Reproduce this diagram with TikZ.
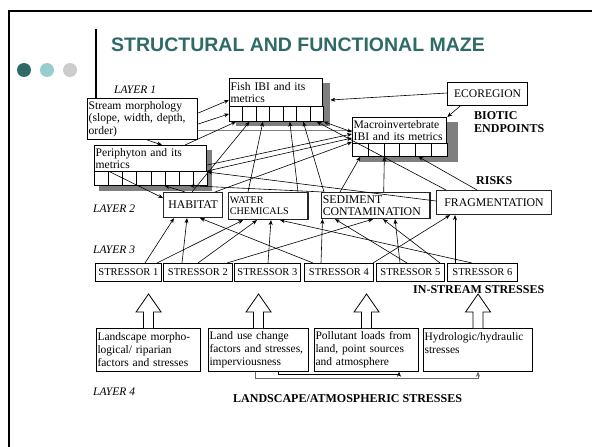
\documentclass[tikz,border=0pt]{standalone}
\usepackage{fontspec}
\setmainfont{Liberation Serif}
\newfontfamily\titlefont{Liberation Sans}
\usetikzlibrary{arrows.meta}
\definecolor{slideteal}{HTML}{2F6B66}
\definecolor{dotlight}{HTML}{99CCCC}
\definecolor{dotgrey}{HTML}{CCCCCC}
\definecolor{shadowgrey}{HTML}{7F7F7F}
\tikzstyle{text-box}=[draw,fill=white,anchor=north west,align=left,inner sep=1.2pt,line width=0.9pt,font=\fontsize{11.6}{12.4}\selectfont]
\tikzstyle{cell-node}=[draw,fill=white,anchor=north west,inner sep=0pt,line width=0.7pt]
\tikzstyle{risk-node}=[draw=black!85,fill=white,anchor=north west,inner sep=1.2pt,line width=1.1pt,font=\fontsize{11.8}{12.4}\selectfont]
\tikzstyle{stress-node}=[draw,fill=white,anchor=north west,inner sep=0pt,line width=0.7pt,minimum height=18pt,font=\fontsize{10.5}{12}\selectfont]
\tikzstyle{land-node}=[draw,fill=white,anchor=north west,align=left,inner sep=1.2pt,line width=0.7pt,minimum height=43pt,font=\fontsize{11.5}{13}\selectfont]
\tikzstyle{layer-label}=[anchor=base west,inner sep=0pt,font=\fontsize{11.5}{13}\selectfont\itshape]
\tikzstyle{group-label}=[anchor=base west,inner sep=0pt,align=left,font=\fontsize{12}{13}\selectfont\bfseries]
\tikzstyle{hollow-arrow}=[draw,fill=white,line width=0.8pt]
\tikzstyle{black-line}=[draw=black,line width=0.6pt]

\begin{document}
\begin{tikzpicture}[x=1pt,y=-1pt]
	\useasboundingbox (0,0) rectangle (592,447);
	% slide frame
	\begin{scope}
	\draw[line width=2.5pt] (592,11) -- (9,11) -- (9,447);
	\draw[line width=1.5pt] (96,29) -- (96,102);
	\fill[slideteal] (24,70) circle (7);
	\fill[dotlight] (47,70) circle (7);
	\fill[dotgrey] (70,70) circle (7);
	\node[anchor=base west,inner sep=0pt,text=slideteal,font=\titlefont\fontsize{19.5}{22}\selectfont\bfseries] (title) at (111,51) {STRUCTURAL AND FUNCTIONAL MAZE};
	\end{scope}

	% shadows
	\fill[shadowgrey] (236,83) rectangle (330,126);
	\fill[shadowgrey] (99,150) rectangle (212,191);
	\fill[shadowgrey] (360,122) rectangle (458,162);

	% biotic endpoints
	\begin{scope}
	\node[text-box,text width=108pt,minimum height=41pt] (stream) at (87,98) {Stream morphology\\(slope, width, depth,\\order)};
	\node[text-box,text width=91pt,minimum height=28pt] (fish) at (229,78) {Fish IBI and its\\metrics};
	\foreach \i in {1,...,7}
		\node[cell-node,minimum width=13.43pt,minimum height=15pt] (fc\i) at ({229+(\i-1)*13.43},106) {};
	\node[text-box,text width=110pt,minimum height=26pt] (periph) at (94,145) {Periphyton and its\\metrics};
	\foreach \i in {1,...,8}
		\node[cell-node,minimum width=14.13pt,minimum height=14pt] (pc\i) at ({94+(\i-1)*14.13},171) {};
	\node[text-box,text width=92pt,minimum height=26pt] (macro) at (352,117) {Macroinvertebrate\\IBI and its metrics};
	\foreach \i in {1,...,6}
		\node[cell-node,minimum width=15.83pt,minimum height=13pt] (mc\i) at ({352+(\i-1)*15.83},143) {};
	\node[text-box,line width=1.2pt,minimum width=80pt,minimum height=23pt,align=center] (eco) at (447,82) {ECOREGION};
	\end{scope}

	% risks
	\begin{scope}
	\node[risk-node,minimum width=59pt,minimum height=25pt] (hab) at (163,192) {HABITAT};
	\node[risk-node,text width=77pt,minimum height=27pt,align=left,font=\fontsize{10.2}{11}\selectfont] (water) at (228,192) {WATER\\CHEMICALS};
	\node[risk-node,text width=106pt,minimum height=26pt,align=left] (sed) at (321,192) {SEDIMENT\\CONTAMINATION};
	\node[risk-node,minimum width=115pt,minimum height=24pt] (frag) at (436,190) {FRAGMENTATION};
	\end{scope}

	% stressors
	\begin{scope}
	\node[stress-node,minimum width=66pt] (s1) at (95,263) {STRESSOR 1};
	\node[stress-node,minimum width=69pt] (s2) at (163,263) {STRESSOR 2};
	\node[stress-node,minimum width=66pt] (s3) at (234,263) {STRESSOR 3};
	\node[stress-node,minimum width=69pt] (s4) at (304,263) {STRESSOR 4};
	\node[stress-node,minimum width=68pt] (s5) at (376,263) {STRESSOR 5};
	\node[stress-node,minimum width=70pt] (s6) at (447,263) {STRESSOR 6};
	\end{scope}

	% landscape
	\begin{scope}
	\node[land-node,text width=102pt] (lb1) at (96,328) {Landscape morpho-\\logical/ riparian\\factors and stresses};
	\node[land-node,text width=98pt] (lb2) at (208,328) {Land use change\\factors and stresses,\\imperviousness};
	\node[land-node,text width=102pt] (lb3) at (314,328) {Pollutant loads from\\land, point sources\\and atmosphere};
	\node[land-node,text width=107pt] (lb4) at (423,328) {Hydrologic/hydraulic\\stresses\\\mbox{}};
	\foreach \b in {lb1,lb2,lb3,lb4}
		\draw[hollow-arrow] ([xshift=-5pt]\b.north) -- ++(0,-16) -- ++(-7.5,0) -- ++(12.5,-18) -- ++(12.5,18) -- ++(-7.5,0) -- ++(0,16);
	\end{scope}

	% labels
	\begin{scope}
	\node[layer-label] (l1) at (114,93) {LAYER 1};
	\node[layer-label] (l2) at (93,212) {LAYER 2};
	\node[layer-label] (l3) at (93,253) {LAYER 3};
	\node[layer-label] (l4) at (93,395) {LAYER 4};
	\node[group-label] (biotic) at (474,132) {BIOTIC\\ENDPOINTS};
	\node[group-label] (risks) at (476,184) {RISKS};
	\node[group-label] (instream) at (413,293) {IN-STREAM STRESSES};
	\node[group-label] (landatm) at (233,402) {LANDSCAPE/ATMOSPHERIC STRESSES};
	\end{scope}

	\begin{scope}[>={Stealth[length=5pt,width=4pt]}, every edge/.style=black-line]
	% into the biotic endpoints
	\draw[draw=shadowgrey,line width=1pt] ([yshift=-32pt]stream.north east) -- ([yshift=-13pt]macro.north west);
	\path [->] ([yshift=-15pt]stream.north east) edge ([yshift=-22pt]fish.north west);
	\path [->] ([yshift=-26pt]stream.north east) edge (fc1.west);
	\path [->] ([xshift=60pt]stream.south west) edge ([xshift=68pt]periph.north west);
	\path [->] ([xshift=91pt]periph.north west) edge (fc1.south);
	\path [->] ([xshift=29pt]hab.north west) edge (fc2.south);
	\path [->] ([xshift=20pt]water.north west) edge (fc3.south);
	\path [->] ([xshift=70pt]water.north west) edge (fc5.south);
	\path [->] ([xshift=3pt]sed.north west) edge (fc6.south);
	\path [->] ([xshift=10pt]frag.north west) edge (fc7.south);
	\path [<->] (fc7.south east) edge ([yshift=-15pt]macro.north west);
	\path [->] ([yshift=-11pt]eco.north west) edge ([xshift=7pt,yshift=-22pt]fish.north east);
	\path [->] ([xshift=13pt]eco.south west) edge (macro.north east);
	\path [->] ([yshift=-20pt]periph.north east) edge ([yshift=-17pt]macro.north west);
	\path [->] ([yshift=-26pt]periph.north east) edge ([yshift=-21pt]macro.north west);
	\path [->] ([xshift=52pt]hab.north west) edge ([yshift=-25pt]macro.north west);
	\path [->] ([xshift=19pt]sed.north west) edge (mc1.south);
	\path [->] ([xshift=62.7pt]sed.north west) edge (mc2.south east);
	\path [->] ([xshift=41pt]frag.north west) edge ([xshift=3pt]mc5.south west);
	\path [->] ([yshift=-11pt]frag.north west) edge ([yshift=-27pt]periph.north east);
	\path [->] ([xshift=2pt]sed.north west) edge ([xshift=-4pt]pc7.south east);
	\path [->] ([xshift=22pt]hab.north west) edge (pc6.south west);
	\path [->] ([xshift=16pt]periph.south west) edge ([yshift=-6pt]hab.north west);
	% stressors into the risks
	\path [->] ([xshift=50pt]s1.north west) edge ([xshift=11pt]hab.south west);
	\path [->] ([xshift=19pt]s2.north west) edge ([xshift=24pt]hab.south west);
	\path [->] ([xshift=9pt]s4.north west) edge ([xshift=37pt]hab.south west);
	\path [->] ([xshift=62pt]s1.north west) edge ([xshift=15pt]water.south west);
	\path [->] ([xshift=35pt]s2.north west) edge ([xshift=29pt]water.south west);
	\path [->] ([xshift=34pt]s3.north west) edge ([xshift=43pt]water.south west);
	\path [->] ([xshift=25pt]s6.north west) edge ([xshift=52pt]water.south west);
	\path [->] ([xshift=64pt]s2.north west) edge ([xshift=52pt]sed.south west);
	\path [->] ([xshift=17pt]s4.north west) edge ([xshift=1.5pt]sed.south west);
	\path [->] ([xshift=31pt]s5.north west) edge ([xshift=14pt]sed.south west);
	\path [->] ([xshift=64pt]s5.north west) edge ([xshift=62pt]sed.south west);
	\path [->] ([xshift=24pt]s5.north west) edge ([xshift=74pt]sed.south west);
	\path [->] ([xshift=69pt]s4.north west) edge ([xshift=14pt]frag.south west);
	\path [->] ([xshift=8pt]s6.north west) edge ([xshift=19pt]frag.south west);
	% landscape links
	\draw [->,black-line] ([xshift=70pt]lb2.south west) -- ++(0,3) -| ([xshift=85pt]lb3.south west);
	\draw [->,black-line,draw=black!60] ([xshift=47pt]lb2.south west) -- ++(0,7) -| ([xshift=55pt]lb4.south west);
	\end{scope}
\end{tikzpicture}
\end{document}
